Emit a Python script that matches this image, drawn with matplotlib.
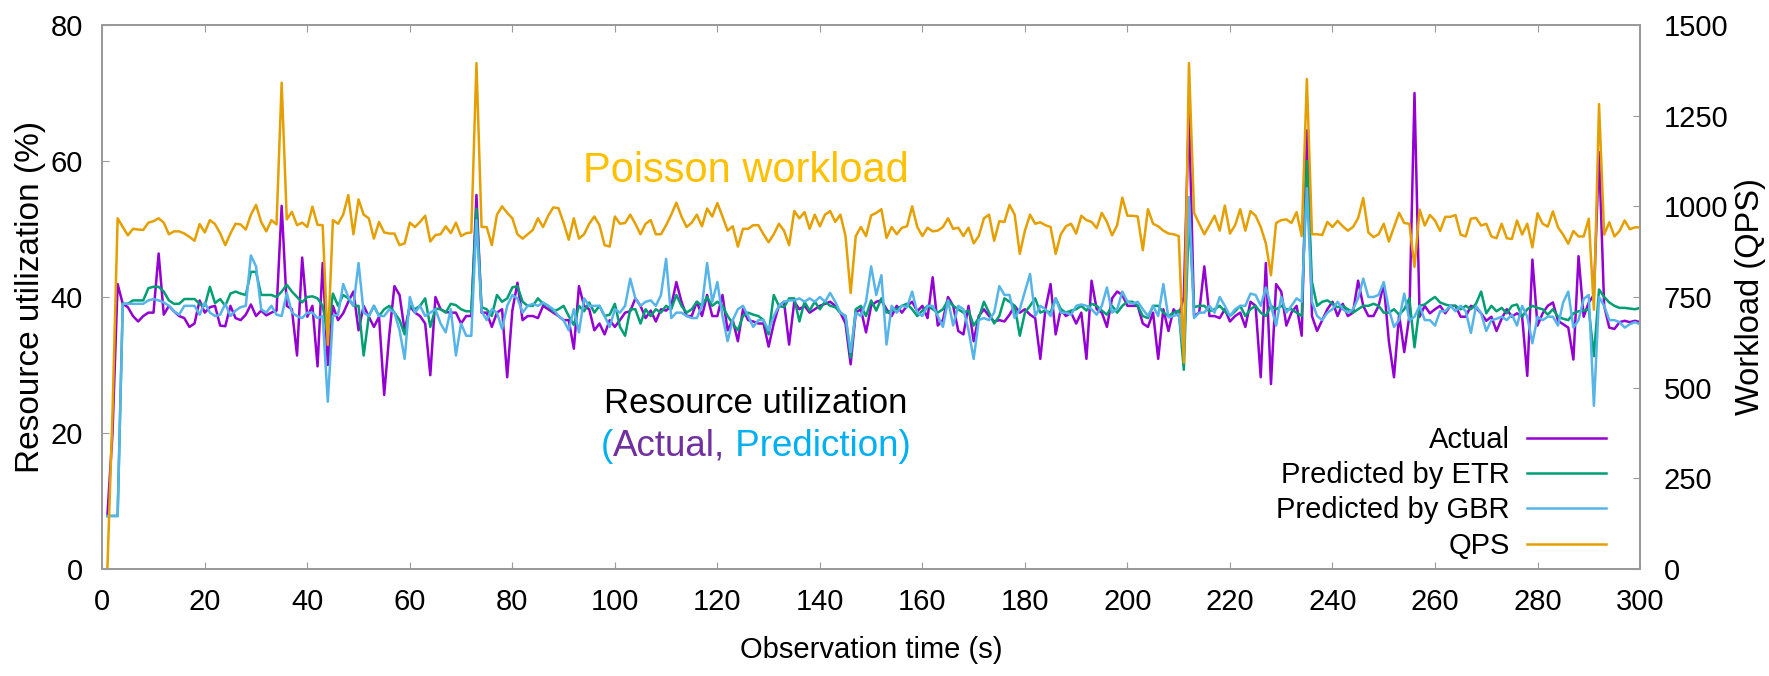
"""
Resource utilization (actual vs. predicted) under a Poisson workload.
"""

import numpy as np
import matplotlib
matplotlib.use('Agg')
import matplotlib.pyplot as plt

plt.rcParams['font.family'] = ['Liberation Sans', 'DejaVu Sans']

# resource utilization (%), one value per second, t = 1..300
actual = [
    7.8, 20, 41.9, 39.0, 38.5, 37.2, 36.4, 37.2, 37.7, 37.7,
    46.4, 37.4, 38.7, 37.9, 37.2, 36.9, 35.6, 36.1, 39.5, 37.7,
    38.5, 38.7, 35.8, 35.7, 38.7, 36.9, 36.6, 37.4, 38.9, 37.2,
    38.0, 37.3, 37.7, 38.0, 53.4, 38.7, 38.2, 31.4, 45.8, 37.1,
    38.7, 29.8, 45.0, 30.0, 38.7, 36.6, 37.6, 39.3, 40.8, 35.1,
    38.7, 37.1, 35.6, 37.1, 25.6, 34.5, 41.6, 40.3, 35.0, 38.7,
    37.7, 37.2, 36.1, 28.5, 40.0, 38.2, 37.8, 37.7, 37.7, 36.1,
    37.2, 37.2, 55.0, 37.7, 37.7, 35.6, 37.7, 38.2, 28.2, 38.0,
    42.1, 36.6, 37.2, 37.2, 36.9, 38.7, 38.2, 37.7, 37.2, 36.6,
    36.6, 32.4, 41.6, 38.7, 38.2, 35.1, 36.1, 34.5, 36.6, 35.6,
    36.6, 37.7, 37.9, 39.8, 38.7, 36.9, 38.0, 36.4, 38.2, 38.0,
    38.7, 42.2, 39.3, 37.2, 37.2, 39.3, 37.2, 40.3, 37.2, 37.2,
    40.3, 35.1, 36.6, 33.5, 38.2, 36.6, 36.4, 36.1, 36.1, 32.7,
    36.1, 38.7, 39.3, 33.0, 39.3, 38.2, 38.7, 37.7, 38.2, 38.7,
    39.0, 39.3, 38.7, 37.7, 36.1, 30.1, 37.7, 38.2, 34.8, 38.7,
    39.3, 39.5, 38.2, 37.2, 38.7, 37.7, 38.7, 39.3, 37.9, 38.7,
    36.9, 42.9, 35.8, 36.6, 40.0, 38.7, 35.0, 34.5, 38.7, 33.5,
    37.2, 38.2, 37.2, 36.4, 36.6, 36.4, 37.4, 38.7, 37.7, 38.2,
    37.4, 36.9, 30.9, 38.2, 41.9, 34.5, 38.2, 37.2, 37.7, 36.1,
    37.7, 30.9, 42.4, 38.2, 37.7, 35.6, 39.8, 40.8, 40.3, 38.7,
    38.7, 38.7, 36.1, 35.6, 37.7, 30.9, 38.2, 35.0, 38.2, 37.2,
    40.0, 67.6, 37.2, 37.7, 44.5, 37.2, 37.2, 36.9, 38.2, 36.4,
    37.2, 37.7, 35.6, 39.3, 38.7, 28.2, 45.0, 27.2, 41.9, 40.8,
    35.8, 37.7, 38.7, 34.3, 64.5, 37.2, 35.0, 36.6, 38.2, 39.3,
    37.2, 39.0, 37.2, 37.7, 42.4, 38.7, 37.2, 37.2, 38.7, 41.9,
    33.5, 28.2, 37.4, 31.9, 37.2, 70.0, 37.1, 38.7, 37.6, 38.2,
    38.7, 37.6, 38.7, 38.7, 37.1, 37.1, 38.7, 38.4, 37.6, 36.5,
    37.1, 35.0, 36.8, 38.2, 37.1, 37.6, 37.1, 28.4, 45.5, 35.8,
    37.6, 38.7, 39.2, 36.5, 36.0, 35.5, 30.8, 46.0, 37.1, 39.2,
    40.3, 61.3, 38.7, 35.5, 35.3, 36.3, 36.5, 36.3, 36.5, 36.3,
]

etr = [
    7.8, 7.8, 7.8, 39.0, 39.0, 39.5, 39.5, 39.5, 41.3, 41.5,
    41.5, 40.8, 39.5, 39.0, 39.0, 39.7, 39.7, 39.7, 39.0, 38.7,
    41.5, 39.1, 39.7, 38.7, 40.5, 40.8, 40.5, 40.3, 43.7, 43.7,
    40.3, 40.3, 40.3, 40.0, 40.8, 41.8, 40.8, 40.0, 39.2, 40.0,
    40.1, 39.8, 38.7, 34.5, 40.5, 38.7, 40.3, 39.8, 38.7, 38.7,
    31.4, 37.2, 38.7, 37.2, 38.2, 38.7, 37.7, 36.6, 34.5, 38.7,
    38.2, 38.7, 39.8, 35.6, 38.3, 38.2, 37.7, 39.0, 38.8, 38.2,
    37.9, 37.9, 53.0, 38.5, 38.2, 37.2, 40.3, 39.3, 39.8, 41.4,
    41.6, 39.3, 38.7, 38.7, 39.8, 39.0, 38.7, 37.9, 38.2, 38.7,
    37.2, 35.9, 38.7, 37.9, 39.2, 37.7, 38.7, 37.2, 37.4, 39.0,
    35.6, 34.3, 38.2, 38.2, 36.1, 38.2, 37.2, 38.2, 37.7, 38.7,
    38.2, 40.3, 38.7, 37.7, 38.2, 39.3, 38.7, 40.0, 38.7, 39.3,
    38.7, 37.2, 36.1, 35.1, 37.2, 37.7, 37.4, 37.2, 36.6, 34.5,
    40.3, 38.7, 38.5, 39.8, 39.8, 36.4, 39.3, 38.0, 39.3, 38.2,
    39.3, 38.7, 38.5, 37.7, 37.2, 31.1, 38.2, 38.7, 37.2, 39.5,
    38.0, 39.8, 37.7, 38.0, 38.2, 38.7, 39.0, 38.2, 37.2, 38.0,
    38.7, 38.2, 37.7, 38.2, 39.5, 38.7, 38.2, 37.7, 38.0, 35.8,
    36.9, 39.3, 37.7, 36.1, 37.2, 39.8, 39.3, 38.7, 34.3, 37.7,
    38.7, 39.8, 37.7, 38.0, 37.7, 39.8, 38.2, 37.7, 38.0, 38.2,
    38.7, 38.0, 39.0, 38.7, 38.0, 37.4, 38.7, 37.7, 38.7, 39.3,
    39.3, 38.7, 37.2, 36.9, 38.7, 38.7, 37.7, 37.2, 37.7, 38.0,
    29.3, 52.0, 38.5, 38.7, 38.7, 37.9, 38.2, 38.7, 37.9, 37.2,
    37.9, 38.7, 37.2, 38.2, 38.7, 37.7, 37.2, 38.7, 38.2, 38.7,
    38.2, 38.2, 37.7, 37.2, 60.0, 42.2, 38.7, 39.3, 39.5, 39.0,
    38.5, 38.7, 38.2, 37.7, 38.2, 38.7, 38.7, 39.0, 38.7, 37.7,
    37.7, 38.2, 37.4, 38.2, 39.8, 32.6, 38.7, 38.9, 39.5, 40.0,
    39.2, 38.9, 38.7, 38.7, 38.2, 38.7, 38.2, 39.0, 40.8, 37.6,
    38.7, 37.9, 38.4, 37.6, 38.7, 38.9, 37.1, 38.2, 38.7, 38.4,
    38.2, 37.4, 38.2, 37.1, 36.8, 36.6, 37.6, 37.9, 38.0, 38.2,
    31.3, 41.1, 40.0, 39.2, 38.7, 38.4, 38.4, 38.3, 38.2, 38.4,
]

gbr = [
    7.8, 7.8, 7.8, 39.0, 39.0, 39.0, 39.0, 39.0, 39.5, 39.7,
    39.5, 39.2, 38.7, 37.9, 37.4, 38.7, 38.7, 38.7, 37.4, 39.2,
    37.7, 37.2, 37.4, 39.0, 37.2, 38.0, 38.5, 38.7, 46.1, 44.5,
    38.2, 37.7, 38.7, 37.4, 37.2, 40.6, 37.7, 37.2, 36.9, 37.7,
    37.7, 36.9, 37.2, 24.6, 37.2, 37.4, 41.9, 40.0, 38.7, 45.0,
    37.7, 37.2, 38.7, 37.2, 37.2, 38.2, 37.7, 35.1, 30.9, 40.0,
    37.7, 38.7, 37.2, 37.7, 38.2, 36.1, 34.8, 38.2, 31.4, 36.1,
    34.3, 34.3, 51.3, 37.9, 36.6, 38.2, 37.7, 35.3, 38.7, 40.3,
    39.8, 37.7, 38.7, 39.0, 38.7, 39.2, 38.7, 38.2, 37.2, 36.6,
    35.1, 38.2, 34.8, 39.8, 38.7, 38.7, 38.7, 37.2, 35.6, 38.2,
    37.7, 38.7, 42.7, 39.8, 38.7, 39.3, 39.5, 38.7, 40.3, 45.6,
    36.9, 37.7, 37.7, 37.2, 36.9, 36.9, 38.7, 45.0, 39.3, 42.2,
    37.2, 33.5, 36.6, 38.2, 38.7, 37.2, 35.6, 36.6, 36.6, 35.1,
    37.2, 38.7, 39.3, 39.5, 39.5, 39.8, 39.3, 39.8, 39.3, 40.0,
    39.3, 40.6, 39.3, 37.7, 37.2, 31.9, 37.7, 37.2, 39.3, 44.5,
    40.3, 43.2, 33.0, 38.7, 37.7, 38.7, 38.5, 40.8, 37.7, 37.2,
    38.7, 38.7, 37.2, 35.6, 39.5, 35.8, 38.7, 38.2, 35.1, 30.9,
    36.6, 36.9, 36.6, 37.7, 41.6, 40.3, 40.3, 36.9, 38.2, 40.8,
    43.4, 37.2, 38.7, 38.2, 37.2, 39.8, 37.7, 37.7, 37.4, 38.7,
    38.9, 38.7, 38.2, 37.4, 38.7, 41.4, 37.7, 38.2, 40.8, 39.3,
    39.0, 39.3, 38.2, 37.2, 38.7, 37.2, 41.9, 37.0, 37.2, 37.5,
    31.9, 54.7, 36.9, 37.7, 37.7, 38.7, 37.7, 40.0, 38.7, 37.2,
    38.2, 38.7, 38.7, 40.5, 40.3, 38.7, 41.4, 38.7, 35.8, 40.0,
    37.7, 38.7, 39.8, 39.3, 56.0, 39.3, 37.2, 36.6, 37.7, 38.2,
    39.3, 38.2, 37.7, 38.2, 39.8, 42.7, 40.0, 40.0, 40.3, 42.2,
    38.2, 35.6, 36.6, 40.5, 36.6, 37.1, 38.7, 36.6, 36.6, 35.8,
    37.9, 37.9, 38.7, 37.9, 38.7, 37.9, 34.7, 38.7, 37.6, 35.0,
    36.6, 36.8, 37.1, 36.6, 37.4, 35.8, 38.7, 37.1, 33.2, 37.1,
    36.6, 37.1, 37.1, 35.8, 39.2, 40.8, 35.5, 36.6, 39.7, 40.3,
    24.0, 40.0, 38.7, 36.6, 36.6, 36.3, 35.5, 36.0, 36.3, 36.0,
]

# workload (queries per second)
qps = [
    0, 430, 967, 943, 920, 938, 936, 935, 955, 959,
    967, 955, 923, 931, 931, 925, 916, 905, 951, 928,
    962, 951, 926, 893, 925, 952, 950, 936, 977, 1004,
    957, 931, 962, 950, 1341, 964, 985, 948, 955, 943,
    999, 949, 948, 618, 962, 952, 977, 1031, 923, 1019,
    977, 967, 911, 957, 928, 925, 925, 893, 898, 955,
    943, 957, 974, 903, 921, 923, 945, 926, 955, 918,
    926, 928, 1395, 943, 943, 893, 977, 1000, 982, 967,
    923, 911, 923, 935, 967, 943, 974, 997, 995, 955,
    908, 967, 911, 923, 952, 972, 948, 893, 889, 972,
    952, 954, 977, 952, 923, 952, 962, 923, 923, 948,
    977, 1010, 972, 943, 955, 977, 945, 994, 972, 1009,
    972, 933, 945, 889, 938, 938, 948, 948, 923, 901,
    923, 952, 933, 893, 987, 967, 984, 938, 977, 945,
    977, 987, 957, 977, 918, 761, 918, 943, 918, 975,
    982, 992, 913, 943, 923, 941, 945, 1000, 943, 918,
    941, 931, 933, 943, 967, 938, 941, 918, 941, 898,
    918, 967, 977, 905, 959, 957, 1004, 977, 869, 933,
    977, 952, 956, 948, 943, 869, 923, 945, 952, 925,
    974, 962, 957, 940, 982, 957, 920, 948, 1024, 974,
    974, 972, 879, 992, 952, 945, 933, 925, 923, 918,
    569, 1395, 982, 952, 923, 948, 974, 933, 1002, 925,
    948, 992, 933, 987, 974, 943, 898, 810, 954, 962,
    964, 954, 984, 918, 1351, 923, 923, 921, 957, 943,
    960, 945, 933, 943, 967, 1023, 928, 915, 923, 952,
    903, 943, 982, 954, 952, 833, 991, 947, 976, 961,
    932, 971, 971, 976, 922, 917, 966, 968, 947, 952,
    917, 912, 952, 912, 910, 961, 922, 952, 887, 981,
    952, 944, 986, 942, 922, 897, 932, 917, 917, 966,
    715, 1282, 922, 956, 917, 932, 961, 937, 942, 942,
]

x_ticks = list(range(0, 301, 20))
util_ticks = [0, 20, 40, 60, 80]
qps_ticks = [0, 250, 500, 750, 1000, 1250, 1500]

frame_col = '#9a9a9a'
fs = 21

fig, ax = plt.subplots(figsize=(17.69, 6.76), dpi=100)
fig.subplots_adjust(left=0.0578, right=0.9271, bottom=0.1583, top=0.963)
ax2 = ax.twinx()

h1, = ax.plot(np.arange(1, len(actual) + 1), actual, color='#9400D3', lw=1.8, label='Actual')
h2, = ax.plot(np.arange(1, len(etr) + 1), etr, color='#009E73', lw=1.8, label='Predicted by ETR')
h3, = ax.plot(np.arange(1, len(gbr) + 1), gbr, color='#56B4E9', lw=1.8, label='Predicted by GBR')
h4, = ax2.plot(np.arange(1, len(qps) + 1), qps, color='#E69F00', lw=1.8, label='QPS')

ax.set_xlim(0, 300)
ax.set_ylim(0, 80)
ax2.set_ylim(0, 1500)
ax.set_xticks(x_ticks)
ax.set_yticks(util_ticks)
ax2.set_yticks(qps_ticks)

for a in (ax, ax2):
    for s in a.spines.values():
        s.set_color(frame_col)
        s.set_linewidth(1.3)

ax.tick_params(axis='x', direction='in', top=True, length=5, color=frame_col,
               labelsize=fs, pad=14)
ax.tick_params(axis='y', direction='in', right=False, length=5, color=frame_col,
               labelsize=fs, pad=14)
ax2.tick_params(axis='y', direction='in', length=5, color=frame_col,
                labelsize=fs, pad=17)

ax.set_xlabel('Observation time (s)', fontsize=fs, labelpad=14)
ax.set_ylabel('Resource utilization (%)', fontsize=24, labelpad=3)
ax2.set_ylabel('Workload (QPS)', fontsize=23.5, labelpad=5)

ax2.legend([h1, h2, h3, h4], [h.get_label() for h in (h1, h2, h3, h4)],
           loc='lower right', bbox_to_anchor=(0.978, 0.017), frameon=False,
           markerfirst=False, fontsize=fs, handlelength=2.7, handletextpad=0.6,
           labelspacing=0.25, borderpad=0, borderaxespad=0)

# annotations
ax2.text(0.4186, 0.711, 'Poisson workload', transform=ax.transAxes, fontsize=30,
         color='#FFC000', ha='center', va='baseline')
ax2.text(0.425, 0.287, 'Resource utilization', transform=ax.transAxes, fontsize=25,
         color='black', ha='center', va='baseline')
t1 = ax2.text(0.3243, 0.208, '(', transform=ax.transAxes, fontsize=26.5,
              color='#00B0F0', ha='left', va='baseline')
t2 = ax2.annotate('Actual,', xy=(1, 0), xycoords=t1, fontsize=26.5,
                  color='#7030A0', ha='left', va='bottom')
ax2.annotate(' Prediction)', xy=(1, 0), xycoords=t2, fontsize=26.5,
             color='#00B0F0', ha='left', va='bottom')

plt.savefig('out.png', dpi=100)
